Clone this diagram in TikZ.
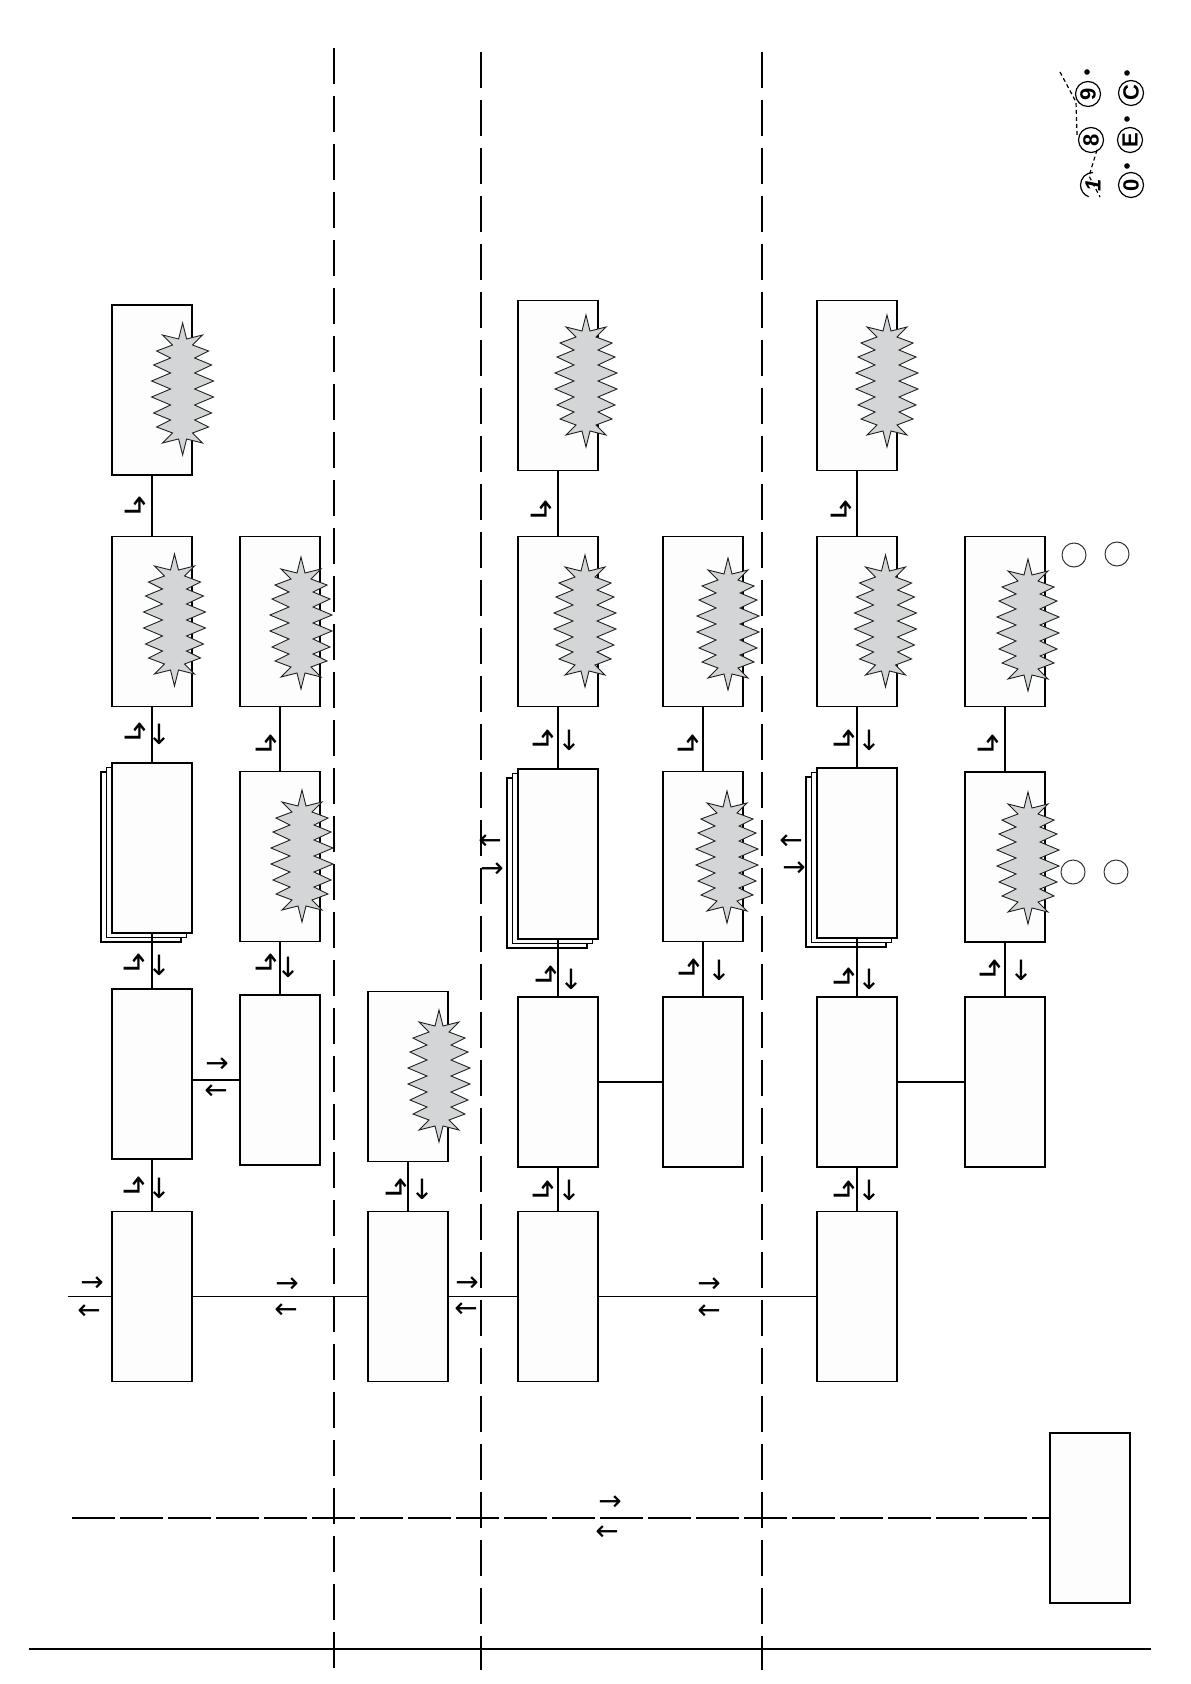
\documentclass[tikz,border=0pt]{standalone}
\usepackage{fontspec}
\newfontfamily\arrowfont{DejaVu Sans}
\newfontfamily\keyfont{Liberation Sans}
\definecolor{boxfill}{HTML}{FDFDFD}
\definecolor{burstfill}{HTML}{D3D5D7}
\definecolor{burstline}{HTML}{222222}
\begin{document}
\begin{tikzpicture}[x=0.5pt,y=-0.5pt,
  box/.style={draw=black, line width=0.6pt, fill=boxfill, minimum width=40pt, minimum height=85pt, inner sep=0pt, outer sep=0pt},
  conn/.style={line width=0.6pt},
  sepline/.style={line width=0.6pt, dash pattern=on 18pt off 6pt},
  hsep/.style={line width=0.6pt, dash pattern=on 21.5pt off 2.5pt},
  arr/.style={font=\arrowfont\fontsize{14}{14}\selectfont, inner sep=0pt},
  hook/.style={font=\arrowfont\fontsize{14}{14}\selectfont, inner sep=0pt, rotate=90, xscale=1.25},
  key/.style={circle, draw, line width=0.6pt, minimum size=12.5pt, inner sep=0pt, font=\keyfont\bfseries\fontsize{11}{11}\selectfont, rotate=90},
  ring/.style={circle, draw=black!80, line width=0.5pt, minimum size=12pt, inner sep=0pt},
  burst/.pic={\draw[fill=burstfill, draw=burstline, line width=0.45pt, line join=miter]
    (0,-66) -- (4,-50) -- (20,-54) -- (10,-44) -- (26,-38) -- (12,-31) -- (29,-24) -- (12,-16) -- (31,-8) -- (12,0) -- (31,8) -- (12,16) -- (29,24) -- (12,31) -- (26,38) -- (10,44) -- (20,54) -- (4,50) -- (0,66) -- (-4,50) -- (-20,54) -- (-10,44) -- (-26,38) -- (-12,31) -- (-29,24) -- (-12,16) -- (-31,8) -- (-12,0) -- (-31,-8) -- (-12,-16) -- (-29,-24) -- (-12,-31) -- (-26,-38) -- (-10,-44) -- (-20,-54) -- (-4,-50) -- cycle;}
  ]
\useasboundingbox (0,0) rectangle (1190,1684);

% separators
\draw[sepline] (334,48) -- (334,1670);
\draw[sepline] (481,52) -- (481,1670);
\draw[sepline] (762,52) -- (762,1670);
\draw[line width=0.6pt] (29,1649) -- (1151,1649);

% boxes
\node[box] (a1) at (152,1296.5) {};
\node[box] (a2) at (152,1074) {};
\node[box] (a3s2) at (141,857) {};
\node[box] (a3s1) at (146.5,852.5) {};
\node[box] (a3) at (152,848) {};
\node[box] (a4) at (152,621.5) {};
\node[box] (a5) at (152,390) {};
\node[box] (ab2) at (280,1080) {};
\node[box] (ab3) at (280,856.5) {};
\node[box] (ab4) at (280,621.5) {};
\node[box] (b1) at (408,1296.5) {};
\node[box] (b2) at (408,1076.5) {};
\node[box] (c1) at (558,1296.5) {};
\node[box] (c2) at (558,1082) {};
\node[box] (c3s2) at (547,863) {};
\node[box] (c3s1) at (552.5,858.5) {};
\node[box] (c3) at (558,854) {};
\node[box] (c4) at (558,621.5) {};
\node[box] (c5) at (558,385.5) {};
\node[box] (cb2) at (703,1082) {};
\node[box] (cb3) at (703,856.5) {};
\node[box] (cb4) at (703,621.5) {};
\node[box] (d1) at (857,1296.5) {};
\node[box] (d2) at (857,1082) {};
\node[box] (d3s2) at (846,862) {};
\node[box] (d3s1) at (851.5,857.5) {};
\node[box] (d3) at (857,853) {};
\node[box] (d4) at (857,621.5) {};
\node[box] (d5) at (857,385.5) {};
\node[box] (db2) at (1005,1082) {};
\node[box] (db3) at (1005,857) {};
\node[box] (db4) at (1005,621.5) {};
\node[box] (e) at (1090,1518) {};

% horizontal connectors
\coordinate (lin) at (68,1296.5);
\coordinate (hl) at (72,1518);
\draw[conn] (lin) -- (a1.west);
\draw[conn] (a1.east) -- (b1.west);
\draw[conn] (b1.east) -- (c1.west);
\draw[conn] (c1.east) -- (d1.west);
\draw[conn] (ab2.west -| a2.east) -- (ab2.west);
\draw[conn] (c2.east) -- (cb2.west);
\draw[conn] (d2.east) -- (db2.west);
\draw[hsep] (hl) -- (e.west);

% vertical connectors
\foreach \u/\v in {a1/a2,a2/a3,a3/a4,a4/a5,ab2/ab3,ab3/ab4,b1/b2,c1/c2,c2/c3,c3/c4,c4/c5,cb2/cb3,cb3/cb4,d1/d2,d2/d3,d3/d4,d4/d5,db2/db3,db3/db4}
  \draw[conn] (\u.north) -- (\v.south);

% bursts
\foreach \p in {(182.6,389),(174.5,620),(301,623),(302,856),(439,1076),(586,381),(585,621),(728,624),(727,857),(887,381),(885.5,621),(1028,625),(1028,858)}
  \pic at \p {burst};

% arrow labels on horizontal links
\node[arr] (r0) at (92,1284) {→};
\node[arr] (l0) at (89,1312) {←};
\node[arr] (r1) at (287,1285) {→};
\node[arr] (l1) at (286,1311) {←};
\node[arr] (r2) at (467,1284) {→};
\node[arr] (l2) at (466,1310) {←};
\node[arr] (r3) at (709,1285) {→};
\node[arr] (l3) at (709,1312) {←};
\node[arr] (r4) at (610,1503) {→};
\node[arr] (l4) at (607,1533) {←};
\node[arr] (r5) at (217,1065) {→};
\node[arr] (l5) at (216,1092) {←};
\node[arr] (l6) at (490,842) {←};
\node[arr] (r6) at (492,870) {→};
\node[arr] (l7) at (791,842) {←};
\node[arr] (r7) at (794,869) {→};

% arrow labels on vertical links
\node[hook] (h1) at (134,1186) {↳};  \node[arr] (v1) at (159,1188) {↓};
\node[hook] (h2) at (134,963) {↳};   \node[arr] (v2) at (159,965) {↓};
\node[hook] (h3) at (135,732) {↳};   \node[arr] (v3) at (159,734) {↓};
\node[hook] (h4) at (135,506) {↳};
\node[hook] (h5) at (266,963) {↳};   \node[arr] (v5) at (288,967) {↓};
\node[hook] (h6) at (266,744) {↳};
\node[hook] (h7) at (396,1188) {↳};  \node[arr] (v7) at (422,1189) {↓};
\node[hook] (h8) at (543,1190) {↳};  \node[arr] (v8) at (569,1190) {↓};
\node[hook] (h9) at (546,975) {↳};   \node[arr] (v9) at (571,979) {↓};
\node[hook] (h10) at (543,739) {↳};  \node[arr] (v10) at (569,740) {↓};
\node[hook] (h11) at (541,510) {↳};
\node[hook] (h12) at (689,968) {↳};  \node[arr] (v12) at (719,970) {↓};
\node[hook] (h13) at (688,744) {↳};
\node[hook] (h14) at (844,1190) {↳}; \node[arr] (v14) at (869,1190) {↓};
\node[hook] (h15) at (844,977) {↳};  \node[arr] (v15) at (869,979) {↓};
\node[hook] (h16) at (844,739) {↳};  \node[arr] (v16) at (869,740) {↓};
\node[hook] (h17) at (841,510) {↳};
\node[hook] (h18) at (990,969) {↳};  \node[arr] (v18) at (1021,970) {↓};
\node[hook] (h19) at (988,744) {↳};

% rings
\node[ring] (o1) at (1074,555) {};
\node[ring] (o2) at (1117,554) {};
\node[ring] (o3) at (1073,872) {};
\node[ring] (o4) at (1116,872) {};

% key symbols
\node[key] (k9) at (1088,94) {9};
\node[key] (k8) at (1091,140) {8};
\node[key, draw=none] (k1) at (1093,185) {\itshape 1};
\draw[line width=0.6pt] (1093,172.5) arc[start angle=-90, end angle=-250, radius=12.5];
\node[key] (kc) at (1131,93) {C};
\node[key] (ke) at (1130,140) {E};
\node[key] (k0) at (1131,185) {0};
\draw[line width=0.6pt, dash pattern=on 2pt off 1.5pt] (1060,72) -- (1076,102) -- (1077,135);
\draw[line width=0.6pt, dash pattern=on 2pt off 1.5pt] (1097,150) -- (1089,176) -- (1100,197);
\fill (1087,72) circle[radius=2.8];
\fill (1127,73) circle[radius=2.8];
\fill (1127,119) circle[radius=2.8];
\fill (1127,166) circle[radius=2.8];
\end{tikzpicture}
\end{document}
